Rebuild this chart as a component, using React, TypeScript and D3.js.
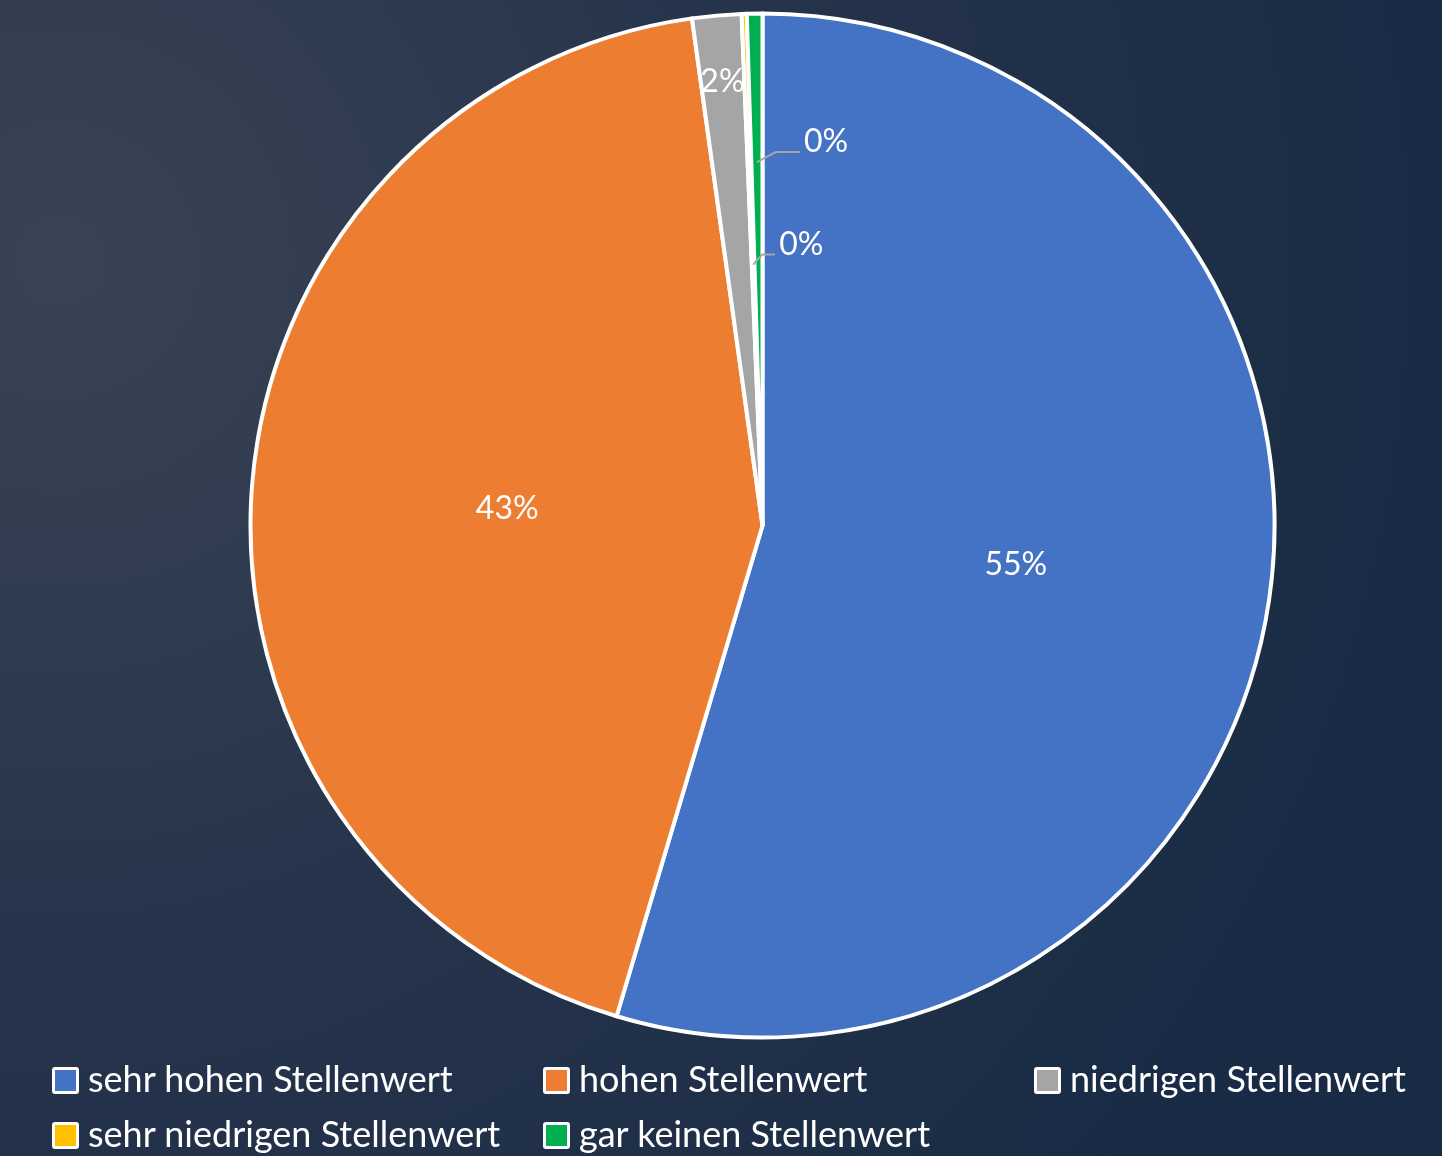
import { useRef, useEffect } from 'react';
import * as d3 from 'd3';

const CATEGORIES = [
  'sehr hohen Stellenwert',
  'hohen Stellenwert',
  'niedrigen Stellenwert',
  'sehr niedrigen Stellenwert',
  'gar keinen Stellenwert',
];
const VALUES = [54.6, 43.2, 1.55, 0.16, 0.49];
const COLORS = ['#4472C4', '#ED7D31', '#A5A5A5', '#FFC000', '#00B050'];

const W = 1442;
const H = 1156;
const FONT = 'Lato, "Noto Sans", sans-serif';

export default function App() {
  const ref = useRef<SVGSVGElement>(null);

  useEffect(() => {
    const svg = d3.select(ref.current);
    svg.selectAll('*').remove();

    const cx = 762.5, cy = 525.5, r = 512;

    // background
    const defs = svg.append('defs');
    const grad = defs.append('radialGradient')
      .attr('id', 'bg').attr('gradientUnits', 'userSpaceOnUse')
      .attr('cx', 60).attr('cy', 260).attr('r', 1450);
    grad.append('stop').attr('offset', '0%').attr('stop-color', '#3a4354');
    grad.append('stop').attr('offset', '45%').attr('stop-color', '#27354c');
    grad.append('stop').attr('offset', '100%').attr('stop-color', '#182a44');
    svg.append('rect').attr('width', W).attr('height', H).attr('fill', 'url(#bg)');

    const data = VALUES.map((v, i) => ({ v, i }));
    const pie = d3.pie<{ v: number; i: number }>().sort(null).value(d => d.v);
    const arcs = pie(data);
    const arc = d3.arc<d3.PieArcDatum<{ v: number; i: number }>>().innerRadius(0).outerRadius(r);

    const g = svg.append('g').attr('transform', `translate(${cx},${cy})`);

    g.selectAll('path.slice').data(arcs).enter().append('path')
      .attr('class', 'slice')
      .attr('d', arc)
      .attr('fill', d => COLORS[d.data.i])
      .attr('stroke', '#fff')
      .attr('stroke-width', 4)
      .attr('stroke-linejoin', 'round');

    const pct = (v: number) => Math.round(v) + '%';
    const at = (d: d3.PieArcDatum<any>, rad: number) => {
      const a = (d.startAngle + d.endAngle) / 2;
      return [Math.sin(a) * rad, -Math.cos(a) * rad];
    };

    // inside labels
    const inside: Record<number, number> = { 0: 0.5, 1: 0.5, 2: 0.875 };
    arcs.filter(d => inside[d.data.i] != null).forEach(d => {
      const [x, y] = at(d, r * inside[d.data.i]);
      g.append('text')
        .attr('x', x).attr('y', y)
        .attr('text-anchor', 'middle').attr('dominant-baseline', 'central')
        .attr('fill', '#fff').style('font-family', FONT).style('font-size', '32px')
        .text(pct(d.data.v));
    });

    // leader labels for tiny slices
    const leader: Record<number, number> = { 3: 0.51, 4: 0.71 };
    arcs.filter(d => leader[d.data.i] != null).forEach(d => {
      const [x, y] = at(d, r * leader[d.data.i]);
      const ex = x + 9 + (d.data.i === 4 ? 10 : 0);
      const ey = y - 10;
      const lx = ex + (d.data.i === 4 ? 24 : 13);
      g.append('path')
        .attr('d', `M${x},${y}L${ex},${ey}L${lx},${ey}`)
        .attr('fill', 'none').attr('stroke', '#a6a6a6').attr('stroke-width', 2);
      g.append('text')
        .attr('x', lx + 4).attr('y', ey)
        .attr('fill', '#fff').style('font-family', FONT).style('font-size', '32px')
        .text(pct(d.data.v));
    });

    // legend
    const cols = [52, 543, 1034];
    const rows = [1067, 1122];
    const lg = svg.append('g');
    CATEGORIES.forEach((c, i) => {
      const x = cols[i % 3];
      const y = rows[Math.floor(i / 3)];
      lg.append('rect')
        .attr('x', x + 1.5).attr('y', y + 1.5).attr('width', 24).attr('height', 24)
        .attr('rx', 1.5)
        .attr('fill', COLORS[i]).attr('stroke', '#fff').attr('stroke-width', 3);
      lg.append('text')
        .attr('x', x + 36).attr('y', y + 25)
        .attr('fill', '#fff').style('font-family', FONT).style('font-size', '36px')
        .text(c);
    });
  }, []);

  return (
    <svg
      ref={ref}
      width={W}
      height={H}
      style={{ position: 'fixed', left: 0, top: 0, display: 'block' }}
    />
  );
}
